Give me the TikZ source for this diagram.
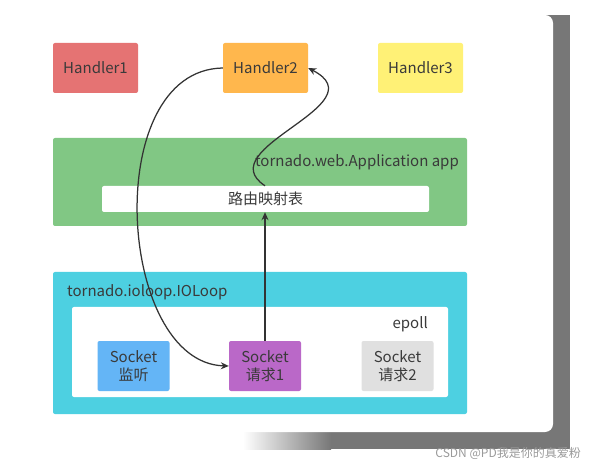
\documentclass[tikz,border=0pt]{standalone}
\usepackage{fontspec}
\setmainfont{Noto Sans CJK SC}
\usetikzlibrary{arrows.meta}
\definecolor{txt}{HTML}{3A3A3A}
\definecolor{hred}{HTML}{E57373}
\definecolor{horange}{HTML}{FFB74D}
\definecolor{hyellow}{HTML}{FFF176}
\definecolor{appgreen}{HTML}{81C784}
\definecolor{loopcyan}{HTML}{4DD0E1}
\definecolor{sblue}{HTML}{64B5F6}
\definecolor{spurple}{HTML}{BA68C8}
\definecolor{sgray}{HTML}{E0E0E0}
\definecolor{shadowgray}{HTML}{777777}
\definecolor{linec}{HTML}{333333}
\definecolor{wm}{HTML}{9A9A9A}
\tikzset{
  box/.style={rounded corners=2pt, inner sep=0pt, text=txt, font=\fontsize{15}{18.5}\selectfont, align=center},
  handlerbox/.style={box, minimum width=85pt, minimum height=50pt},
  sockbox/.style={box, minimum width=72pt, minimum height=50pt},
  lbl/.style={inner sep=0pt, text=txt, font=\fontsize{15}{18}\selectfont},
  conn/.style={draw=linec, line width=1.25pt, -{Stealth[length=8pt,width=7pt]}},
}
\begin{document}
\begin{tikzpicture}[x=1pt,y=-1pt]
\useasboundingbox (0,0) rectangle (597,470);
% shadow and card
\fill[shadowgray] (330,15) rectangle (570,449);
\shade[left color=white, right color=shadowgray] (243,432) rectangle (331,449);
\fill[white, rounded corners=8pt] (-20,15) rectangle (553,432);
% handlers
\node[handlerbox, fill=hred] (h1) at (95.5,68) {Handler1};
\node[handlerbox, fill=horange] (h2) at (265.5,68) {Handler2};
\node[handlerbox, fill=hyellow] (h3) at (420.5,68) {Handler3};
% application
\node[box, fill=appgreen, minimum width=414pt, minimum height=88pt] (app) at (260,182) {};
\node[lbl, anchor=east] (applbl) at (459,162) {tornado.web.Application app};
\node[box, fill=white, minimum width=327pt, minimum height=26pt] (bar) at (265.5,199) {路由映射表};
% ioloop
\node[box, fill=loopcyan, minimum width=414pt, minimum height=142pt] (loop) at (260,343) {};
\node[lbl, anchor=west] (looplbl) at (67,292) {tornado.ioloop.IOLoop};
\node[box, fill=white, minimum width=376pt, minimum height=90pt] (ep) at (260,352) {};
\node[lbl, anchor=east] (eplbl) at (428,324) {epoll};
\node[sockbox, fill=sblue] (s0) at (133.5,366) {Socket\\监听};
\node[sockbox, fill=spurple] (s1) at (265,366) {Socket\\请求1};
\node[sockbox, fill=sgray] (s2) at (397.5,366) {Socket\\请求2};
% connectors
\draw[conn] (h2.west) .. controls (100,70) and (117,363) .. (s1.west);
\draw[conn] (s1.north) -- (s1.north |- bar.south);
\draw[conn] (s1.north |- bar.north) .. controls (208,148) and (380,105) .. (h2.east);
% watermark
\node[inner sep=0pt, anchor=east, text=wm, font=\fontsize{12}{14}\selectfont] (wmk) at (581,453) {CSDN @PD我是你的真爱粉};
\end{tikzpicture}
\end{document}
